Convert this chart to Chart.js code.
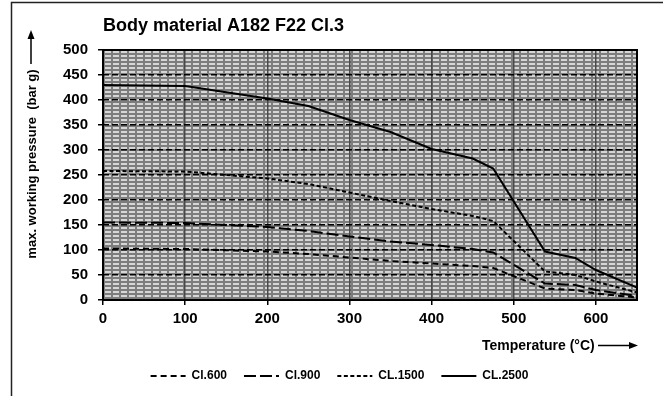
<!DOCTYPE html>
<html>
<head>
<meta charset="utf-8">
<script src="https://cdn.jsdelivr.net/npm/chart.js@4/dist/chart.umd.min.js"></script>
<style>
  html, body { margin: 0; padding: 0; background: #fff; }
  #wrap { width: 663px; height: 396px; position: relative; }
</style>
</head>
<body>
<div id="wrap"><canvas id="chart" width="663" height="396"></canvas></div>
<script>
// values (temperature in °C, pressure in bar g)
const temps = [0, 100, 200, 250, 300, 350, 400, 450, 475, 538, 575, 600, 650];
const cl600 = [103, 102, 97, 92, 85, 78, 73, 68, 64, 23, 20, 13, 5];
const cl900 = [155, 154, 146, 138, 127, 117, 110, 102, 95, 33, 30, 20, 8];
const cl1500 = [258, 257, 243, 232, 215, 198, 182, 168, 158, 57, 50, 37, 15];
const cl2500 = [430, 428, 403, 388, 360, 336, 302, 283, 263, 97, 84, 60, 25];
const seriesNames = ['Cl.600', 'Cl.900', 'CL.1500', 'CL.2500'];
const xTicks = [0, 100, 200, 300, 400, 500, 600];
const yTicks = [0, 50, 100, 150, 200, 250, 300, 350, 400, 450, 500];

const FONT = '"Liberation Sans", Arial, sans-serif';

function toPoints(ys) {
    return temps.map(function(t, i) { return {x: t, y: ys[i]}; });
}

// gray "grid" fill like the old spreadsheet pattern
function makePattern(ctx) {
    const c = document.createElement('canvas');
    c.width = 8; c.height = 4;
    const p = c.getContext('2d');
    p.fillStyle = '#7d7d7d';
    p.fillRect(0, 0, 8, 4);
    p.fillStyle = '#d6d6d6';
    p.fillRect(2, 1, 6, 2);
    return ctx.createPattern(c, 'repeat');
}

const decor = {
    id: 'decor',
    beforeDraw(chart) {
        const {ctx, chartArea: a} = chart;
        ctx.save();
        ctx.translate(a.left, a.top);
        ctx.fillStyle = makePattern(ctx);
        ctx.fillRect(0, 0, a.right - a.left, a.bottom - a.top);
        ctx.restore();
    },
    afterDraw(chart) {
        const {ctx, chartArea: a} = chart;
        ctx.save();
        // plot frame
        ctx.strokeStyle = '#000';
        ctx.lineWidth = 2;
        ctx.strokeRect(a.left, a.top, a.right - a.left, a.bottom - a.top);

        // outer frame (top and left)
        ctx.lineWidth = 1.5;
        ctx.strokeStyle = '#222';
        ctx.beginPath();
        ctx.moveTo(11.5, 396);
        ctx.lineTo(11.5, 2.5);
        ctx.lineTo(663, 2.5);
        ctx.stroke();

        // title
        ctx.fillStyle = '#000';
        ctx.font = 'bold 18px ' + FONT;
        ctx.textAlign = 'left';
        ctx.textBaseline = 'alphabetic';
        ctx.fillText('Body material A182 F22 Cl.3', a.left, 31);

        // y axis title with arrow
        ctx.save();
        ctx.translate(32, 164);
        ctx.rotate(-Math.PI / 2);
        ctx.font = 'bold 13px ' + FONT;
        ctx.textAlign = 'center';
        ctx.textBaseline = 'middle';
        ctx.fillText('max. working pressure  (bar g)', 0, 0);
        ctx.restore();
        ctx.lineWidth = 1.5;
        ctx.strokeStyle = '#000';
        ctx.beginPath();
        ctx.moveTo(31, 64);
        ctx.lineTo(31, 38);
        ctx.stroke();
        ctx.beginPath();
        ctx.moveTo(31, 30);
        ctx.lineTo(27.5, 39);
        ctx.lineTo(34.5, 39);
        ctx.closePath();
        ctx.fill();

        // x axis title with arrow
        ctx.font = 'bold 14px ' + FONT;
        ctx.textAlign = 'left';
        ctx.textBaseline = 'middle';
        ctx.fillText('Temperature (°C)', 482, 346);
        ctx.beginPath();
        ctx.moveTo(598, 345.5);
        ctx.lineTo(630, 345.5);
        ctx.stroke();
        ctx.beginPath();
        ctx.moveTo(638, 345.5);
        ctx.lineTo(629, 342);
        ctx.lineTo(629, 349);
        ctx.closePath();
        ctx.fill();
        ctx.restore();
    }
};

const dashes = [[6, 4], [12, 4], [4, 2.5], []];
const values = [cl600, cl900, cl1500, cl2500];

new Chart(document.getElementById('chart'), {
    type: 'line',
    data: {
        datasets: values.map(function(v, i) {
            return {
                label: seriesNames[i],
                data: toPoints(v),
                borderColor: '#000',
                backgroundColor: '#000',
                borderWidth: 2,
                borderDash: dashes[i],
                pointRadius: 0,
                tension: 0,
                fill: false
            };
        })
    },
    options: {
        responsive: false,
        animation: false,
        layout: {padding: {left: 42, right: 26, top: 50, bottom: 4}},
        plugins: {
            title: {display: false},
            tooltip: {enabled: false},
            legend: {
                position: 'bottom',
                labels: {
                    usePointStyle: true,
                    pointStyle: 'line',
                    pointStyleWidth: 35,
                    padding: 17,
                    color: '#000',
                    font: {family: FONT, size: 12, weight: 'bold'},
                    // point style labels lose the dataset dash, put it back
                    generateLabels: function(chart) {
                        const items = Chart.defaults.plugins.legend.labels.generateLabels(chart);
                        items.forEach(function(item) {
                            const ds = chart.data.datasets[item.datasetIndex];
                            item.lineDash = ds.borderDash;
                            item.lineWidth = 2;
                            item.strokeStyle = '#000';
                        });
                        return items;
                    }
                }
            }
        },
        scales: {
            x: {
                type: 'linear',
                min: 0,
                max: 650,
                afterFit: function(scale) { scale.height = 53; },
                afterBuildTicks: function(scale) {
                    scale.ticks = xTicks.map(function(v) { return {value: v}; });
                },
                ticks: {
                    color: '#000',
                    padding: 5,
                    maxRotation: 0,
                    font: {family: FONT, size: 15, weight: 'bold'}
                },
                grid: {
                    color: '#4a4a4a',
                    lineWidth: 1.5,
                    drawTicks: true,
                    tickLength: 5,
                    tickColor: '#000',
                    tickWidth: 1.5
                },
                border: {display: false}
            },
            y: {
                min: 0,
                max: 500,
                afterFit: function(scale) { scale.width = 61; },
                afterBuildTicks: function(scale) {
                    scale.ticks = yTicks.map(function(v) { return {value: v}; });
                },
                ticks: {
                    color: '#000',
                    padding: 10,
                    font: {family: FONT, size: 15, weight: 'bold'}
                },
                grid: {
                    color: '#000',
                    lineWidth: 1.5,
                    drawTicks: true,
                    tickLength: 5,
                    tickColor: '#000',
                    tickWidth: 1.5,
                    tickBorderDash: []
                },
                border: {display: false, dash: [6, 3]}
            }
        }
    },
    plugins: [decor]
});
</script>
</body>
</html>
